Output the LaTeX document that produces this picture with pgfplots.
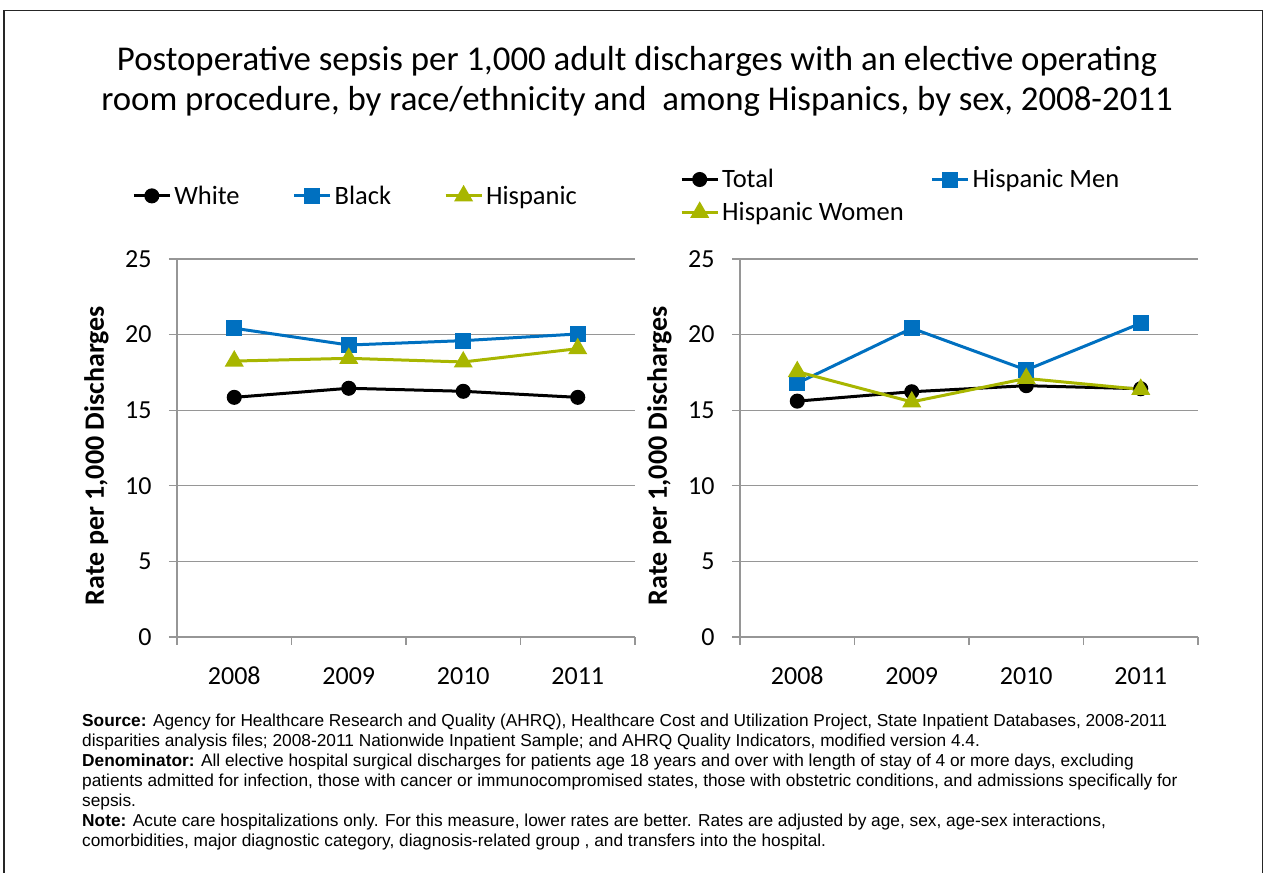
\documentclass[border=0pt]{standalone}
\usepackage{fontspec}
\setmainfont{Carlito}
\newfontfamily\arial{Liberation Sans}
\usepackage{pgfplots}
\pgfplotsset{compat=1.18}
\definecolor{cblue}{RGB}{0,112,192}
\definecolor{cgreen}{RGB}{168,182,0}
\definecolor{gridgray}{RGB}{150,150,150}
\pgfplotsset{
  myaxis/.style={
    anchor=south west,
    scale only axis, width=458pt, height=378pt,
    xmin=-0.5, xmax=3.5, ymin=0, ymax=25,
    axis x line*=bottom, axis y line*=left,
    axis line style={draw=gridgray, line width=1.2pt},
    every tick/.style={draw=gridgray, line width=1.2pt},
    tick align=outside, major tick length=8pt,
    xtick={-0.5,0.5,1.5,2.5,3.5}, xticklabels={},
    extra x ticks={0,1,2,3},
    extra x tick labels={2008,2009,2010,2011},
    extra x tick style={major tick length=0pt, grid=none},
    ytick={0,5,10,15,20,25},
    ymajorgrids, grid style={draw=gridgray, line width=1.2pt},
    /pgf/number format/assume math mode=true,
    tick label style={font=\fontsize{26}{30}\selectfont},
    xticklabel style={yshift=-27pt, text height=17pt, text depth=0pt},
    yticklabel style={xshift=-14pt},
    ylabel={Rate per 1,000 Discharges},
    ylabel style={at={(axis description cs:-0.176,0.48)}, anchor=center, font=\fontsize{28}{32}\selectfont\bfseries},
    legend style={draw=none, fill=none, inner sep=0pt, font=\fontsize{26.5}{30}\selectfont,
      nodes={inner xsep=3pt, inner ysep=0pt}},
    legend cell align=left,
    legend image code/.code={\draw[mark repeat=2,mark phase=2] plot coordinates {(0pt,0pt) (18pt,0pt) (36pt,0pt)};},
    clip=false,
  },
  sw/.style={black, line width=3pt, mark=*, mark size=6pt, mark options={solid}},
  sb/.style={cblue, line width=3pt, mark=square*, mark size=6.5pt, mark options={solid}},
  sg/.style={cgreen, line width=3pt, mark=triangle*, mark size=8pt, mark options={solid}},
}
\begin{document}
\begin{tikzpicture}[x=1pt,y=1pt]
\useasboundingbox (0pt,0pt) rectangle (1264pt,873pt);
\draw[line width=1.5pt, black!85] (4pt,-10pt) -- (4pt,862.5pt) -- (1262.5pt,862.5pt) -- (1262.5pt,-10pt);
\node[font=\fontsize{34.8}{40}\selectfont, align=center, anchor=center] at (637pt,792pt)
  {Postoperative sepsis per 1,000 adult discharges with an elective operating\\room procedure, by race/ethnicity and\ \ among Hispanics, by sex, 2008-2011};

\begin{axis}[myaxis, at={(177pt,236pt)},
  legend columns=3,
  legend style={at={(axis description cs:-0.098,1.167)}, anchor=west,
    /tikz/every even column/.append style={column sep=50pt}}]
\addplot[sw] coordinates {(0,15.85) (1,16.45) (2,16.25) (3,15.85)};
\addlegendentry{White}
\addplot[sb] coordinates {(0,20.42) (1,19.31) (2,19.6) (3,20.04)};
\addlegendentry{Black}
\addplot[sg] coordinates {(0,18.25) (1,18.43) (2,18.19) (3,19.07)};
\addlegendentry{Hispanic}
\end{axis}

\begin{axis}[myaxis, at={(740pt,236pt)},
  legend columns=2,
  legend style={at={(axis description cs:-0.131,1.167)}, anchor=west,
    /tikz/every even column/.append style={column sep=24pt}, row sep=13pt}]
\addplot[sw] coordinates {(0,15.6) (1,16.22) (2,16.62) (3,16.42)};
\addlegendentry{Total}
\addplot[sb] coordinates {(0,16.78) (1,20.42) (2,17.66) (3,20.75)};
\addlegendentry{Hispanic Men}
\addplot[sg] coordinates {(0,17.55) (1,15.55) (2,17.1) (3,16.38)};
\addlegendentry{Hispanic Women}
\end{axis}

\node[anchor=north west, align=left, inner sep=0pt, font=\arial\fontsize{17.3}{19.9}\selectfont] at (82pt,159pt) {%
\textbf{Source:} Agency for Healthcare Research and Quality (AHRQ), Healthcare Cost and Utilization Project, State Inpatient Databases, 2008-2011\\
disparities analysis files; 2008-2011 Nationwide Inpatient Sample; and AHRQ Quality Indicators, modified version 4.4.\\
\textbf{Denominator:} All elective hospital surgical discharges for patients age 18 years and over with length of stay of 4 or more days, excluding\\
patients admitted for infection, those with cancer or immunocompromised states, those with obstetric conditions, and admissions specifically for\\
sepsis.\\
\textbf{Note:} Acute care hospitalizations only. For this measure, lower rates are better. Rates are adjusted by age, sex, age-sex interactions,\\
comorbidities, major diagnostic category, diagnosis-related group , and transfers into the hospital.};
\end{tikzpicture}
\end{document}
